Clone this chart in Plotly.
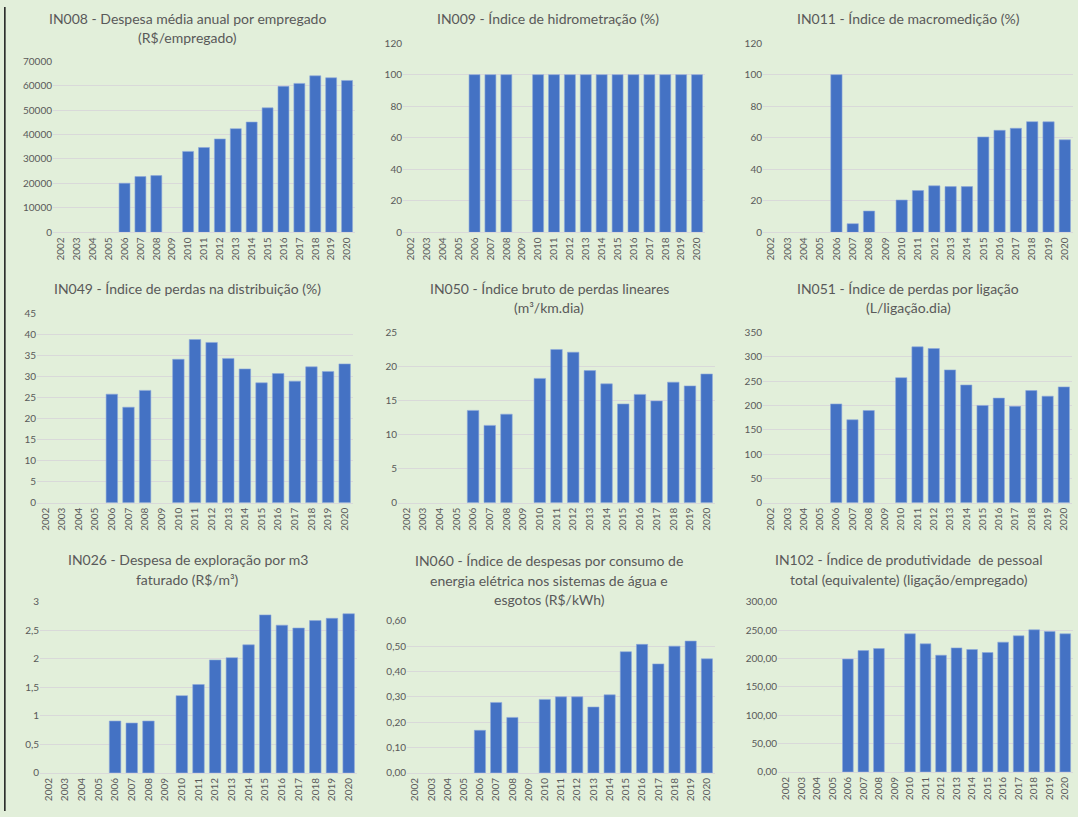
import plotly.graph_objects as go

W, H = 1078, 817

years = [str(y) for y in range(2002, 2021)]

# values per year 2002..2020 (None = no data)
in008 = [None, None, None, None, 20100, 22800, 23200, None, 33100, 34700, 38200, 42400, 45100, 50900, 59700, 60900, 64000, 63200, 62100]
in009 = [None, None, None, None, 100, 100, 100, None, 100, 100, 100, 100, 100, 100, 100, 100, 100, 100, 100]
in011 = [None, None, None, None, 100, 5.5, 13.5, None, 20.5, 26.5, 29.5, 29, 29, 60.5, 64.7, 66, 70.2, 70.1, 58.7]
in049 = [None, None, None, None, 25.8, 22.7, 26.7, None, 34.1, 38.8, 38.1, 34.3, 31.8, 28.5, 30.7, 28.9, 32.3, 31.2, 33.0]
in050 = [None, None, None, None, 13.55, 11.35, 13.0, None, 18.25, 22.5, 22.1, 19.4, 17.45, 14.5, 15.9, 14.95, 17.7, 17.15, 18.9]
in051 = [None, None, None, None, 203, 170.5, 189.5, None, 257, 320.5, 317, 273, 242, 200, 215, 198, 230.5, 219, 238]
in026 = [None, None, None, None, 0.91, 0.875, 0.91, None, 1.355, 1.55, 1.98, 2.02, 2.245, 2.77, 2.59, 2.54, 2.67, 2.71, 2.79]
in060 = [None, None, None, None, 0.168, 0.278, 0.219, None, 0.29, 0.30, 0.30, 0.26, 0.308, 0.478, 0.507, 0.43, 0.50, 0.52, 0.45]
in102 = [None, None, None, None, 199, 214, 217.5, None, 243.5, 225.8, 205.8, 218.7, 215.8, 210.5, 228.8, 240, 250.6, 247.6, 243.5]

titles = [
    ["IN008 - Despesa média anual por empregado", "(R$/empregado)"],
    ["IN009 - Índice de hidrometração (%)"],
    ["IN011 - Índice de macromedição (%)"],
    ["IN049 - Índice de perdas na distribuição (%)"],
    ["IN050 - Índice bruto de perdas lineares", "(m³/km.dia)"],
    ["IN051 - Índice de perdas por ligação", "(L/ligação.dia)"],
    ["IN026 - Despesa de exploração por m3", "faturado (R$/m³)"],
    ["IN060 - Índice de despesas por consumo de", "energia elétrica nos sistemas de água e", "esgotos (R$/kWh)"],
    ["IN102 - Índice de produtividade  de pessoal", "total (equivalente) (ligação/empregado)"],
]
series = [in008, in009, in011, in049, in050, in051, in026, in060, in102]

# layout specs (pixel positions): x0, x1, ytop(max gridline), ybottom(zero), ymax, dtick, tickformat, title center x, title first line y
specs = [
    (53, 355, 61, 232, 70000, 10000, ".0f", 188, 18),
    (403, 705, 43, 232, 120, 20, ".0f", 548, 18),
    (763, 1073, 43, 232, 120, 20, ".0f", 908, 18),
    (37, 353, 313, 502, 45, 5, ".0f", 187, 288),
    (398, 715, 332, 502, 25, 5, ".0f", 549, 288),
    (763, 1072, 332, 502, 350, 50, ".0f", 908, 288),
    (40, 357, 601, 772, 3, 0.5, "", 188, 559),
    (407, 715, 620, 772, 0.6, 0.1, ".2f", 549, 560),
    (778, 1073, 601, 771, 300, 50, ".2f", 909, 559),
]


def py(y):
    # vertical pixel -> paper fraction, compensating the page's vertical offset/scale
    return 1 - ((y - 6.9) / 0.983) / H


BG = "#e2efda"
BAR = "#4472c4"
TXT = "#595959"
GRID = "#d9d9d9"
FONT = "Lato"

fig = go.Figure()
annotations = []
for i, (vals, sp, tl) in enumerate(zip(series, specs, titles)):
    x0, x1, yt, yb, ymax, dt, tf, tcx, ty = sp
    n = "" if i == 0 else str(i + 1)
    fig.add_trace(go.Bar(x=years, y=vals, marker=dict(color=BAR, line=dict(width=0.6, color="#8fa9dc")),
                         xaxis="x" + n, yaxis="y" + n, showlegend=False, hoverinfo="skip"))
    fig.layout["xaxis" + n] = dict(
        domain=[x0 / W, x1 / W], anchor="y" + n, type="category",
        tickangle=-90, tickfont=dict(size=10, color=TXT, family=FONT),
        showline=True, linecolor=GRID, linewidth=1, showgrid=False, ticks="",
    )
    yax = dict(
        domain=[py(yb), py(yt)], anchor="x" + n, range=[0, ymax],
        dtick=dt, tick0=0, showgrid=True, gridcolor=GRID, gridwidth=1,
        zeroline=False, showline=False, ticks="",
        tickfont=dict(size=10, color=TXT, family=FONT),
    )
    if tf:
        yax["tickformat"] = tf
    fig.layout["yaxis" + n] = yax
    for k, line in enumerate(tl):
        annotations.append(dict(
            text=line, x=tcx / W, y=py(ty + 19.5 * k), xref="paper", yref="paper",
            xanchor="center", yanchor="middle", showarrow=False,
            font=dict(size=14, color=TXT, family=FONT),
        ))

fig.update_layout(
    width=W, height=H, margin=dict(l=0, r=0, t=0, b=0),
    paper_bgcolor=BG, plot_bgcolor=BG, bargap=0.31,
    separators=",.", annotations=annotations,
    font=dict(family=FONT, color=TXT),
    shapes=[dict(type="line", xref="paper", yref="paper", x0=0.0045, x1=0.0045, y0=0, y1=1,
                 line=dict(color="#1a1a1a", width=1.5))],
)

fig.write_html(
    "out.html",
    config={"displayModeBar": False},
    post_script="document.body.style.margin='0';document.body.style.padding='0';"
                "document.body.style.overflow='hidden';document.body.style.background='%s';" % BG,
)
